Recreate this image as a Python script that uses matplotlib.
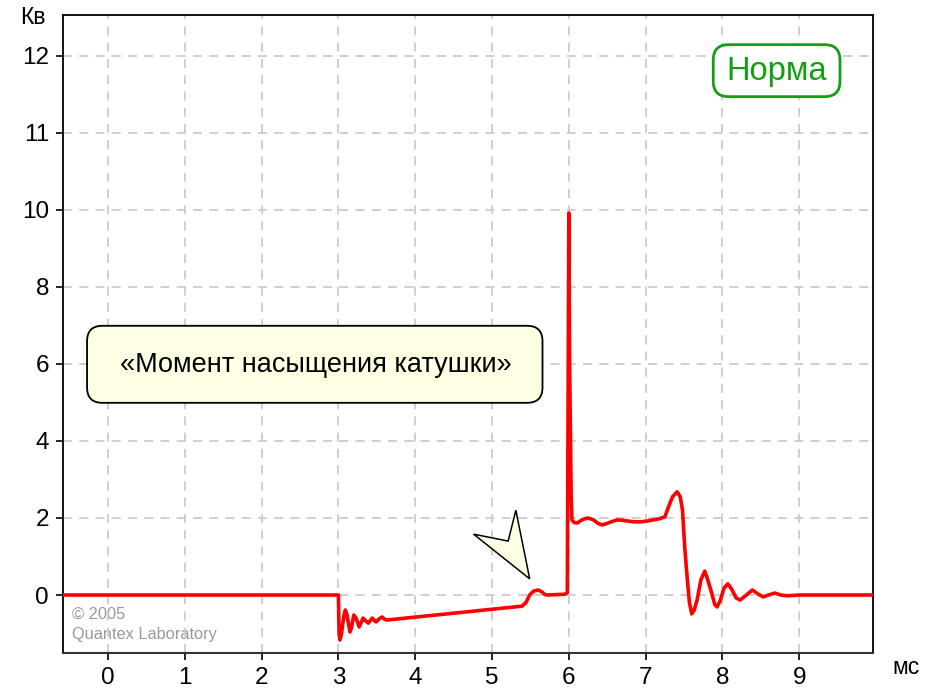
import numpy as np
import matplotlib.pyplot as plt
from matplotlib.patches import FancyBboxPatch, Polygon

plt.rcParams['font.family'] = ['Liberation Sans', 'DejaVu Sans']

# waveform, ms vs kV (axis scale: label "11" sits at 12, "12" at 14)
timeMs = [-0.6, 2.99, 3.0, 3.005, 3.01, 3.02, 3.04, 3.07, 3.09, 3.11, 3.15, 3.17, 3.2, 3.23, 3.27, 3.3,
          3.32, 3.36, 3.39, 3.42, 3.44, 3.47, 3.49, 3.53, 3.57, 3.6, 3.63,
          5.39, 5.44, 5.49, 5.54, 5.6, 5.65, 5.69, 5.72, 5.95, 5.98, 6.0, 6.01, 6.03, 6.04,
          6.07, 6.11, 6.17, 6.24, 6.28, 6.32, 6.38, 6.43, 6.5, 6.58, 6.63, 6.7, 6.77, 6.85, 6.93,
          7.02, 7.1, 7.18, 7.25, 7.3, 7.35, 7.41, 7.45, 7.48, 7.51, 7.54, 7.57, 7.6,
          7.63, 7.67, 7.72, 7.77, 7.8, 7.86, 7.9, 7.93, 7.97, 8.02, 8.07, 8.12, 8.18, 8.23,
          8.3, 8.39, 8.46, 8.53, 8.6, 8.68, 8.76, 8.84, 9.01, 10.0]
voltage = [0.0, 0.0, 0.0, -0.6, -1.0, -1.17, -1.0, -0.55, -0.39, -0.5, -0.96, -0.85, -0.52, -0.6, -0.83, -0.7,
           -0.6, -0.68, -0.73, -0.65, -0.6, -0.67, -0.7, -0.62, -0.57, -0.63, -0.65,
           -0.29, -0.2, 0.0, 0.1, 0.13, 0.08, 0.01, 0.0, 0.02, 0.06, 9.92, 6.0, 2.6, 1.95,
           1.88, 1.87, 1.95, 2.0, 1.98, 1.95, 1.86, 1.82, 1.86, 1.92, 1.95, 1.94, 1.92, 1.9, 1.9,
           1.92, 1.95, 1.98, 2.03, 2.3, 2.55, 2.68, 2.55, 2.2, 1.2, 0.47, -0.2, -0.49,
           -0.4, -0.13, 0.4, 0.62, 0.45, 0.05, -0.25, -0.31, -0.15, 0.18, 0.29, 0.15, -0.08, -0.13,
           -0.02, 0.13, 0.03, -0.05, 0.0, 0.05, 0.0, -0.02, 0.0, 0.0]

xTicks = list(range(10))
yTicks = [0, 2, 4, 6, 8, 10, 12, 14]
yTickLabels = ['0', '2', '4', '6', '8', '10', '11', '12']

fig = plt.figure(figsize=(9.35, 6.93), dpi=100)
ax = fig.add_axes([63 / 935, 40 / 693, 810 / 935, 638 / 693])
ax.set_xlim(-0.586, 9.96)
ax.set_ylim(-1.506, 15.06)

ax.set_xticks(xTicks)
ax.set_yticks(yTicks)
ax.set_yticklabels(yTickLabels)
ax.tick_params(labelsize=17.5, length=5, width=1.2, pad=5)
ax.grid(True, color='#cccccc', linestyle=(0, (5, 4)), linewidth=1.3)
ax.set_axisbelow(True)
for side in ['left', 'top', 'right']:
    ax.spines[side].set_color('black')
    ax.spines[side].set_linewidth(1.3)
ax.spines['bottom'].set_color('#333333')
ax.spines['bottom'].set_linewidth(1.5)

ax.plot(timeMs, voltage, color='#ff0000', linewidth=2.6, solid_joinstyle='round', zorder=3)

# units
fig.text(33 / 935, 1 - 18 / 693, 'Кв', fontsize=16.5, ha='center', va='center')
fig.text(906 / 935, 1 - 668 / 693, 'мс', fontsize=16.5, ha='center', va='center')

# callout box
ax.add_patch(FancyBboxPatch((-0.273, 4.99), 5.93, 2.0,
                            boxstyle='round,pad=0,rounding_size=0.2', mutation_aspect=2.0,
                            facecolor='#ffffe3', edgecolor='black', linewidth=1.3, zorder=4))
ax.text(2.70, 5.97, '«Момент насыщения катушки»', fontsize=19.5, ha='center', va='center', zorder=5)

# "Норма" badge
ax.add_patch(FancyBboxPatch((7.88, 12.94), 1.65, 1.35,
                            boxstyle='round,pad=0,rounding_size=0.2', mutation_aspect=2.0,
                            facecolor='white', edgecolor='#12a012', linewidth=2.0, zorder=4))
ax.text(8.70, 13.58, 'Норма', fontsize=23.5, color='#12a012', ha='center', va='center', zorder=5)

# arrow pointer
arrowPts = [(4.76, 1.58), (5.21, 1.40), (5.31, 2.20), (5.49, 0.42)]
ax.add_patch(Polygon(arrowPts, closed=True, facecolor='#ffffe3', edgecolor='black',
                     linewidth=1.1, zorder=4))

# watermark
ax.text(-0.47, -0.77, '© 2005\nQuantex Laboratory', fontsize=11.8, color='#999999',
        ha='left', va='center', linespacing=1.45, zorder=0.4)

fig.savefig('out.png', dpi=100)
